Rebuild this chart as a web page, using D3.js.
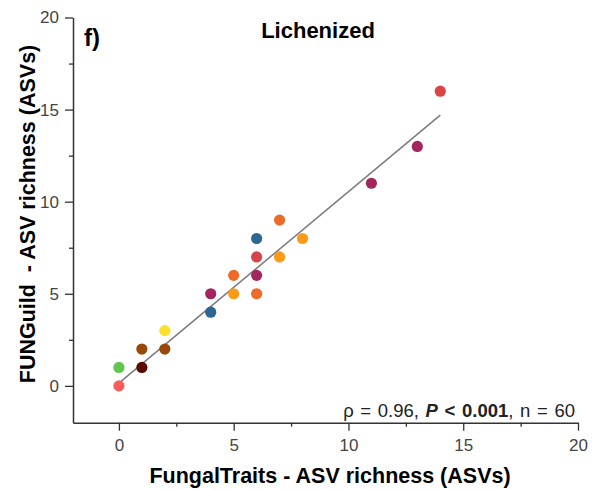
<!DOCTYPE html>
<html>
<head>
<meta charset="utf-8">
<script src="https://cdn.jsdelivr.net/npm/d3@7"></script>
<style>
  body { margin: 0; background: #fff; }
  svg { display: block; font-family: Arial, 'Liberation Sans', sans-serif; }
  .tick-label { fill: #444; font-size: 17px; }
</style>
</head>
<body>
<div id="plot"></div>
<script>
/* Data */
var fungalTraits = [0, 0, 1, 1, 2, 2, 4, 4, 5, 5, 6, 6, 6, 6, 7, 7, 8, 11, 13, 14];
var funGuild     = [0, 1, 1, 2, 2, 3, 4, 5, 5, 6, 5, 6, 7, 8, 7, 9, 8, 11, 13, 16];
var pointColors  = ['#fb5b5b', '#62c64e', '#5c0a02', '#984808', '#984808', '#fce02c',
                    '#2d6791', '#a3265f', '#fd9a18', '#ee6a27', '#ee6a27', '#a3265f',
                    '#d4464b', '#2d6791', '#fd9a18', '#ee6a27', '#fd9a18', '#a3265f',
                    '#a3265f', '#d94644'];
var fitX = [0, 14];
var fitY = [0.15, 14.7];
var majorTicks = [0, 5, 10, 15, 20];
var minorTicks = [2.5, 7.5, 12.5, 17.5];

var WIDTH = 594, HEIGHT = 490;
var svg = d3.select('div#plot').append('svg')
  .attr('width', WIDTH)
  .attr('height', HEIGHT);

var x = d3.scaleLinear().domain([-2, 20]).range([73, 578]);
var y = d3.scaleLinear().domain([-2, 20]).range([422.7, 17.5]);

/* Axes */
var xAxis = svg.append('g')
  .attr('transform', 'translate(0,' + y(-2) + ')')
  .call(d3.axisBottom(x).tickValues(majorTicks).tickSize(8).tickPadding(8).tickSizeOuter(0));
xAxis.append('g')
  .call(d3.axisBottom(x).tickValues(minorTicks).tickSize(4).tickFormat('').tickSizeOuter(0))
  .select('.domain').remove();

var yAxis = svg.append('g')
  .attr('transform', 'translate(' + x(-2) + ',0)')
  .call(d3.axisLeft(y).tickValues(majorTicks).tickSize(8).tickPadding(6).tickSizeOuter(0));
yAxis.append('g')
  .call(d3.axisLeft(y).tickValues(minorTicks).tickSize(4).tickFormat('').tickSizeOuter(0))
  .select('.domain').remove();

svg.selectAll('.domain').attr('stroke', '#333').attr('stroke-width', 1.5);
svg.selectAll('.tick line').attr('stroke', '#333').attr('stroke-width', 1.3);
svg.selectAll('.tick text')
  .attr('class', 'tick-label')
  .attr('font-family', null)
  .attr('font-size', null);

/* Fit line */
var fitLine = d3.line()
  .x(function(d) { return x(d); })
  .y(function(d, i) { return y(fitY[i]); });
svg.append('path')
  .datum(fitX)
  .attr('d', fitLine)
  .attr('fill', 'none')
  .attr('stroke', '#7a7a7a')
  .attr('stroke-width', 1.5);

/* Points */
svg.selectAll('circle.pt')
  .data(fungalTraits)
  .enter()
  .append('circle')
  .attr('class', 'pt')
  .attr('cx', function(d) { return x(d); })
  .attr('cy', function(d, i) { return y(funGuild[i]); })
  .attr('r', 5.6)
  .attr('fill', function(d, i) { return pointColors[i]; });

/* Texts */
svg.append('text')
  .attr('x', 84).attr('y', 46)
  .attr('font-size', 24).attr('font-weight', 'bold')
  .text('f)');

svg.append('text')
  .attr('x', 318).attr('y', 38)
  .attr('text-anchor', 'middle')
  .attr('font-size', 22).attr('font-weight', 'bold')
  .text('Lichenized');

svg.append('text')
  .attr('x', 330).attr('y', 483)
  .attr('text-anchor', 'middle')
  .attr('font-size', 21.5).attr('font-weight', 'bold')
  .text('FungalTraits - ASV richness (ASVs)');

svg.append('text')
  .attr('transform', 'translate(35,214) rotate(-90)')
  .attr('text-anchor', 'middle')
  .attr('font-size', 21.5).attr('font-weight', 'bold')
  .style('white-space', 'pre')
  .text('FUNGuild  - ASV richness (ASVs)');

var stat = svg.append('text')
  .attr('x', 575).attr('y', 417)
  .attr('text-anchor', 'end')
  .attr('font-size', 18.5)
  .attr('word-spacing', 1.5)
  .attr('fill', '#222');
stat.append('tspan').text('\u03c1 = 0.96, ');
stat.append('tspan').attr('font-weight', 'bold').attr('font-style', 'italic').text('P');
stat.append('tspan').attr('font-weight', 'bold').text(' < 0.001');
stat.append('tspan').text(', n = 60');
</script>
</body>
</html>
